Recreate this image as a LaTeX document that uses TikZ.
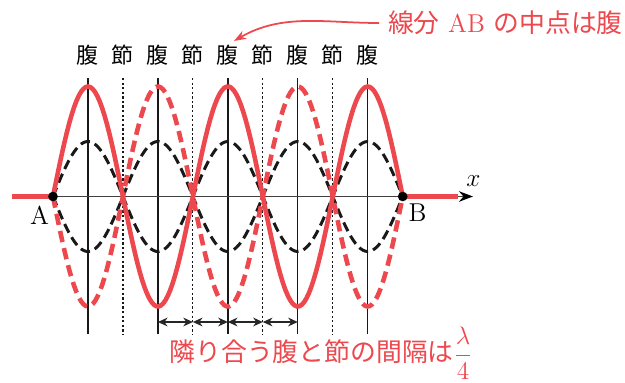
\documentclass[tikz,border=0pt]{standalone}
\usepackage{amsmath}
\usepackage{fontspec}
\newfontfamily\jpfont{Noto Sans CJK JP}
\usetikzlibrary{arrows.meta,positioning}
\definecolor{wavered}{RGB}{236,72,78}

\begin{document}
\begin{tikzpicture}[x=0.02cm, y=-0.02cm,
	lbl/.style={ font=\fontsize{14.7}{17}\selectfont, inner sep=0pt },
	kanji/.style={ font=\jpfont\fontsize{12.5}{14}\selectfont, inner sep=0pt },
	note/.style={ lbl, text=wavered },
	vertex/.style={ circle, fill, inner sep=0pt, minimum size=5.5pt },
	belly/.style={ black!90, line width=0.8pt },
	knot/.style={ black!90, line width=0.65pt, dash pattern=on 1.3pt off 1.3pt },
	redwave/.style={ wavered, line width=2.6pt },
	reddash/.style={ redwave, dash pattern=on 6.5pt off 3.5pt },
	halfwave/.style={ black!90, line width=1.7pt, dash pattern=on 5.5pt off 3pt },
	gap/.style={ {Stealth[length=5.5pt,width=5pt]}-{Stealth[length=5.5pt,width=5pt]}, black!85, line width=0.7pt }
]
\useasboundingbox (0,0) rectangle (625,382);

% ends of the string and the axis
\coordinate (pA) at (53,196.5);
\coordinate (pB) at (402.7,196.5);
\coordinate (left) at (12,196.5);
\coordinate (rend) at (458,196.5);
\coordinate (xend) at (473,196.5);

% guide lines at antinodes and nodes
\foreach \i in {1,...,9} {
	\coordinate (t\i) at ({53+34.97*\i},78);
	\coordinate (b\i) at ({53+34.97*\i},334);
	\coordinate (m\i) at ({53+34.97*\i},322);
}
\foreach \i in {1,3,5,7,9} {
	\draw[belly] (t\i) -- (b\i);
	\node[kanji] at ({53+34.97*\i},55) (k\i) {腹};
}
\foreach \i in {2,4,6,8} {
	\draw[knot] (t\i) -- (b\i);
	\node[kanji] at ({53+34.97*\i},55) (k\i) {節};
}

% axis
\draw[black!75, line width=1pt, -{Stealth[length=8pt,width=6pt,black]}] (pA) -- (xend);
\node[lbl] at (473.5,181.5) (labx) {$x$};

% waves
\draw[halfwave] plot[domain=53:402.7, samples=150] (\x, {196.5-55*sin((\x-53)/69.94*180)});
\draw[halfwave] plot[domain=53:402.7, samples=150] (\x, {196.5+55*sin((\x-53)/69.94*180)});
\draw[reddash] plot[domain=53:402.7, samples=150] (\x, {196.5+110*sin((\x-53)/69.94*180)});
\draw[redwave] plot[domain=53:402.7, samples=150] (\x, {196.5-110*sin((\x-53)/69.94*180)});
\draw[redwave] (left) -- (pA);
\draw[redwave] (pB) -- (rend);

\node[vertex] at (pA) (A) {};
\node[vertex] at (pB) (B) {};
\node[lbl] at (39.5,215) (labA) {A};
\node[lbl] at (417.5,213) (labB) {B};

% quarter wavelengths
\foreach \i/\j in {3/4,4/5,5/6,6/7} \draw[gap] (m\i) -- (m\j);

% notes
\node[note, anchor=east] at (623,23) (mid) {{\jpfont 線分} AB {\jpfont の中点は腹}};
\draw[wavered, line width=1pt, -{Stealth[length=7pt,width=5pt]}, shorten <=5pt, shorten >=4pt] (mid.west) to[out=180,in=30] (k5.north);
\node[note] at (321,353) (spacing) {{\jpfont 隣り合う腹と節の間隔は}$\dfrac{\lambda}{4}$};

\end{tikzpicture}
\end{document}
